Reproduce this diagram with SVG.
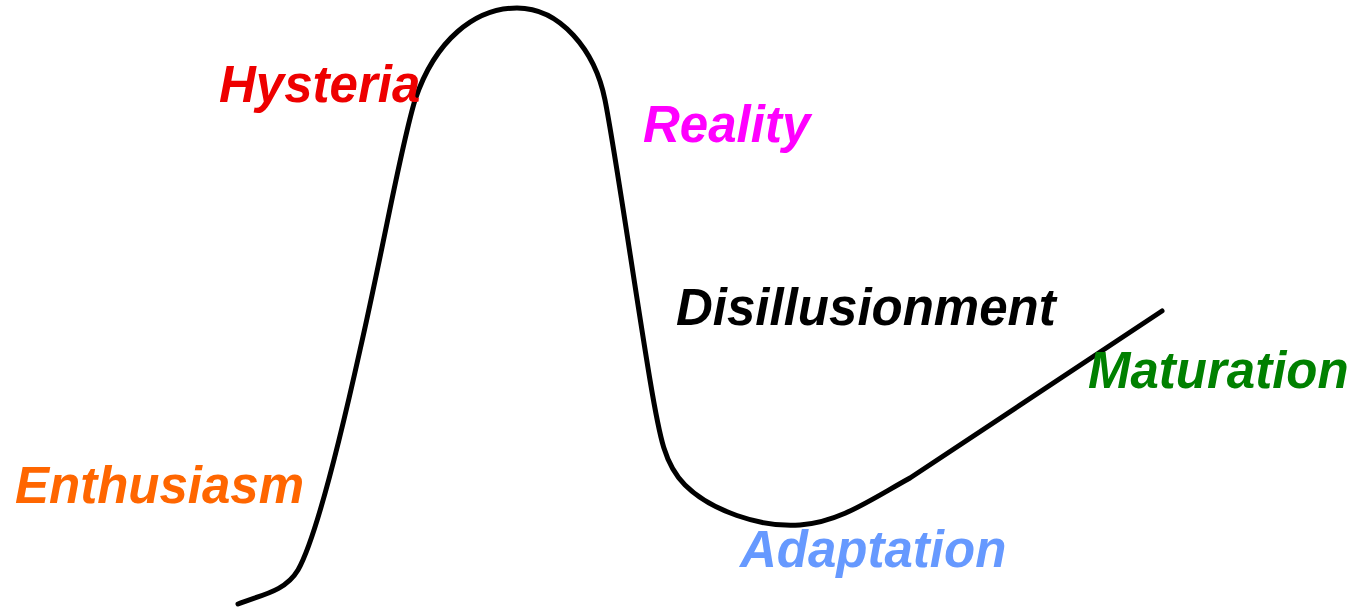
<svg xmlns="http://www.w3.org/2000/svg" width="1357" height="607" viewBox="0 0 1357 607">
<style>
.lbl{font-family:"Liberation Sans",Arial,sans-serif;font-weight:bold;font-style:italic;font-size:51px}
.curve{fill:none;stroke:#000;stroke-width:5;stroke-linecap:round;stroke-linejoin:round}
</style>
<rect width="1357" height="607" fill="#fff"/>
<g id="connectors">
<path class="curve" d="M238,604 C260,595 285,592 298,570 C315,540 340,440 360,350 C385,240 400,150 415,100 C435,40 475,8 517,8 C560,8 595,50 605,100 C615,150 635,290 650,380 C660,440 665,465 685,485 C710,510 760,528 800,525 C840,522 870,500 910,478 L1162,311"/>
</g>
<g id="hysteria"><text class="lbl" x="219" y="102" fill="#ee0000">Hysteria</text></g>
<g id="reality"><text class="lbl" x="643" y="142" fill="#ff00ff">Reality</text></g>
<g id="disillusionment"><text class="lbl" x="676" y="325" fill="#000">Disillusionment</text></g>
<g id="maturation"><text class="lbl" x="1088" y="388" fill="#008000">Maturation</text></g>
<g id="enthusiasm"><text class="lbl" x="15" y="503" fill="#ff6600">Enthusiasm</text></g>
<g id="adaptation"><text class="lbl" x="740" y="567" fill="#6699ff">Adaptation</text></g>
</svg>
